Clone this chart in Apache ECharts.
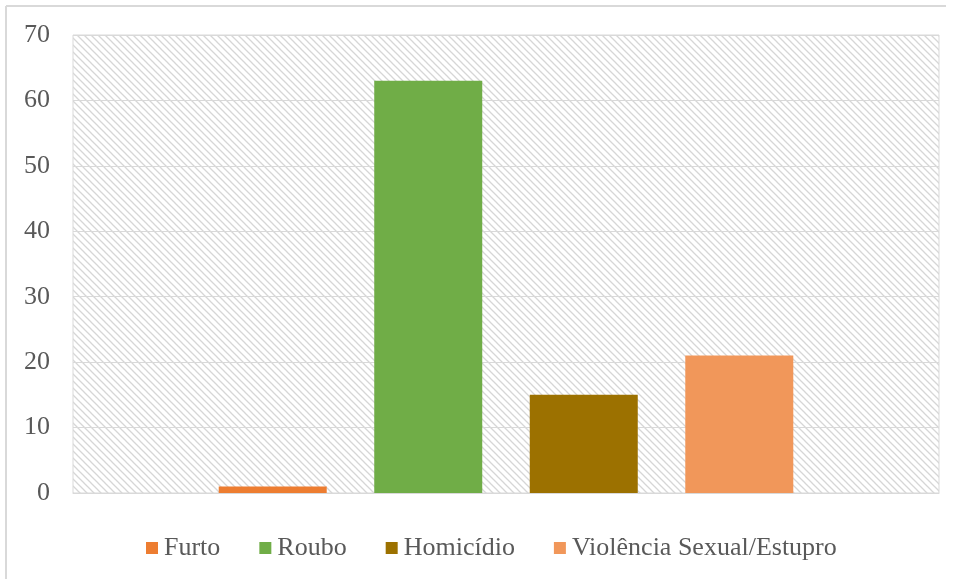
<!DOCTYPE html>
<html>
<head>
<meta charset="utf-8">
<script src="https://cdn.jsdelivr.net/npm/echarts@6/dist/echarts.min.js"></script>
<style>
  html, body { margin: 0; padding: 0; background: #fff; }
  #chart { width: 955px; height: 579px; }
</style>
</head>
<body>
<div id="chart"></div>
<script>
// data
const categories = ['']
const seriesNames = ['Furto', 'Roubo', 'Homicídio', 'Violência Sexual/Estupro']
const seriesValues = [[1], [63], [15], [21]]
const seriesColors = ['#ED7D31', '#70AD47', '#9C7100', '#F1975A']
const yTicks = [0, 10, 20, 30, 40, 50, 60, 70]

// diagonal hatch tile for the plot background
function hatchTile() {
  const s = 7
  const c = document.createElement('canvas')
  c.width = s
  c.height = s
  const ctx = c.getContext('2d')
  ctx.fillStyle = '#ffffff'
  ctx.fillRect(0, 0, s, s)
  ctx.strokeStyle = '#d6d6d6'
  ctx.lineWidth = 1.3
  ctx.beginPath()
  ctx.moveTo(-1, -1)
  ctx.lineTo(s + 1, s + 1)
  ctx.moveTo(-1, s - 1)
  ctx.lineTo(1, s + 1)
  ctx.moveTo(s - 1, -1)
  ctx.lineTo(s + 1, 1)
  ctx.stroke()
  return c
}

const chart = echarts.init(document.getElementById('chart'), null, {
  renderer: 'canvas',
})

const serif = '"Liberation Serif", "Times New Roman", serif'

const option = {
  animation: false,
  backgroundColor: '#fff',
  grid: {
    left: 73,
    right: 16,
    top: 35,
    bottom: 86,
    show: true,
    backgroundColor: { image: hatchTile(), repeat: 'repeat' },
    borderColor: '#d9d9d9',
    borderWidth: 1,
  },
  legend: {
    top: 530,
    left: 141,
    padding: 5,
    itemWidth: 12,
    itemHeight: 12,
    itemGap: 39,
    icon: 'rect',
    textStyle: { fontFamily: serif, fontSize: 26, color: '#595959', padding: [0, 0, 0, 1] },
    data: seriesNames,
  },
  xAxis: {
    type: 'category',
    data: categories,
    axisLine: { show: true, lineStyle: { color: '#d9d9d9' } },
    axisTick: { show: false },
    axisLabel: { show: false },
  },
  yAxis: {
    type: 'value',
    min: yTicks[0],
    max: yTicks[yTicks.length - 1],
    interval: 10,
    axisLine: { show: false },
    axisTick: { show: false },
    axisLabel: {
      margin: 23,
      fontFamily: serif,
      fontSize: 26,
      color: '#595959',
    },
    splitLine: { lineStyle: { color: '#d9d9d9', width: 1 } },
  },
  series: seriesNames.map((name, i) => ({
    name,
    type: 'bar',
    data: seriesValues[i],
    barWidth: 108,
    barGap: '44%',
    itemStyle: { color: seriesColors[i] },
  })),
  graphic: [
    {
      type: 'line',
      shape: { x1: 6, y1: 6, x2: 946, y2: 6 },
      style: { stroke: '#d9d9d9', lineWidth: 2 },
    },
    {
      type: 'line',
      shape: { x1: 6, y1: 6, x2: 6, y2: 579 },
      style: { stroke: '#d9d9d9', lineWidth: 2 },
    },
  ],
}

chart.setOption(option)
</script>
</body>
</html>
